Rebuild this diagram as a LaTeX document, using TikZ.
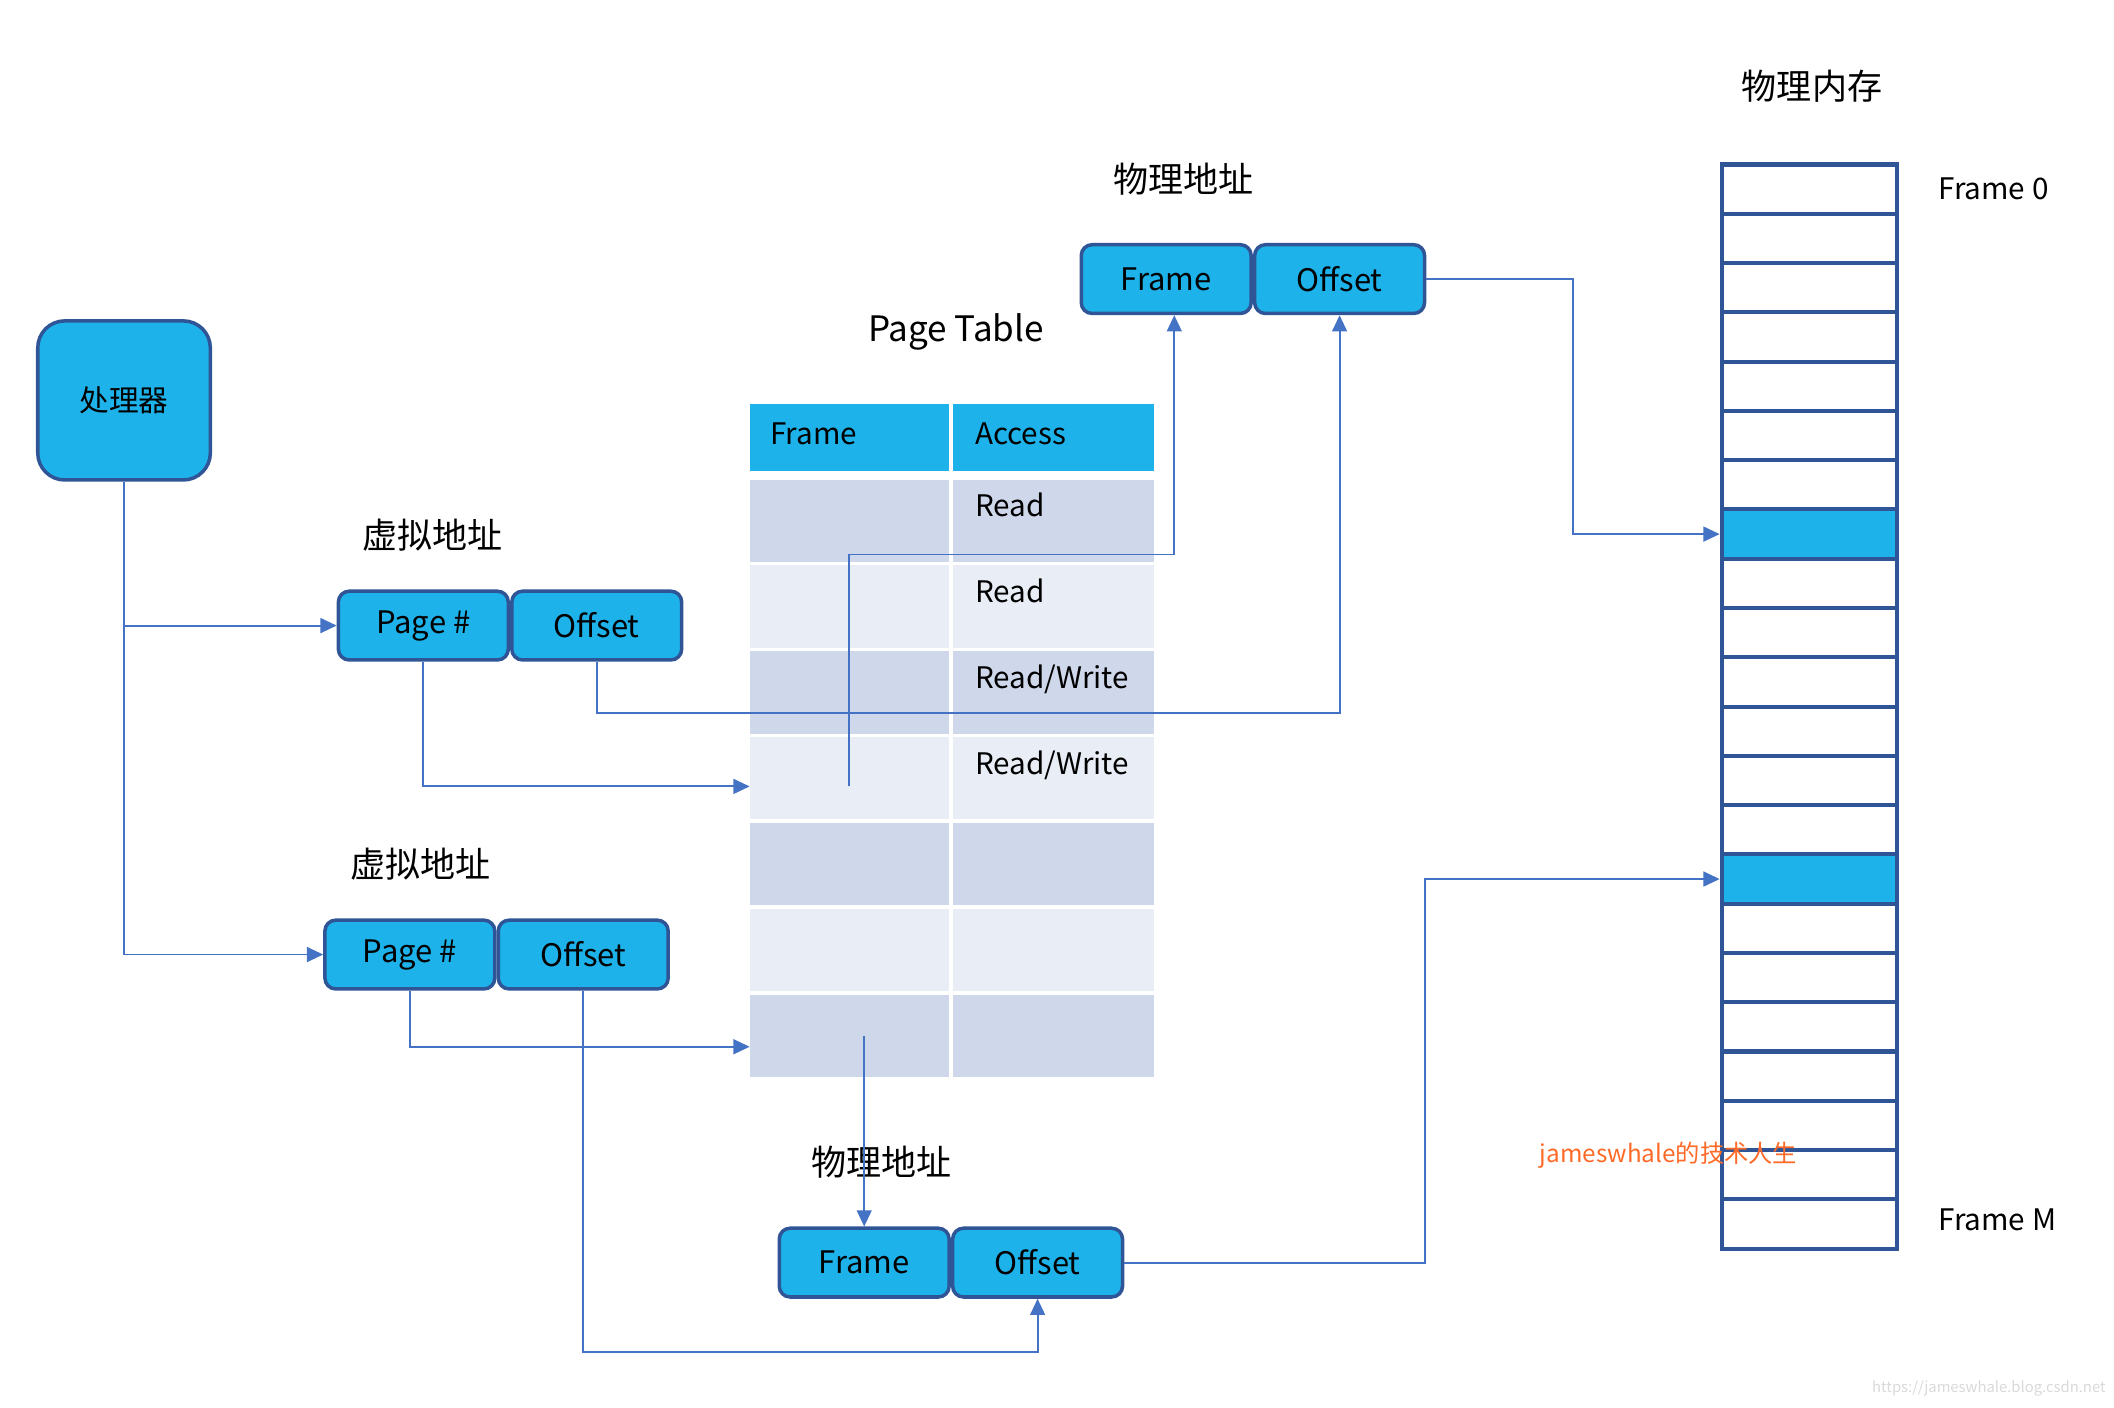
\documentclass[tikz,border=0pt]{standalone}
\usepackage{fontspec}
\setmainfont{Noto Sans CJK SC}
\usepackage{tikz}
\usetikzlibrary{arrows.meta,positioning}

\definecolor{boxcyan}{RGB}{30,178,234}
\definecolor{boxline}{RGB}{47,85,151}
\definecolor{linkblue}{RGB}{68,114,196}
\definecolor{rowdark}{RGB}{207,215,234}
\definecolor{rowlight}{RGB}{233,237,245}
\definecolor{markorange}{RGB}{255,106,40}

\newcommand\rdwr{Read/Write}

\tikzset{
  addrbox/.style={draw=boxline, fill=boxcyan, line width=2.6pt, rounded corners=8pt,
    minimum width=126pt, minimum height=51pt, inner sep=0pt, font=\fontsize{23}{27}\selectfont},
  cpubox/.style={addrbox, rounded corners=20pt, minimum width=128pt, minimum height=118pt,
    font=\fontsize{22}{26}\selectfont},
  zhlabel/.style={inner sep=0pt, font=\fontsize{26}{30}\selectfont},
  cell/.style={inner sep=0pt, outer sep=0pt, minimum height=61pt},
  celltext/.style={inner sep=0pt, font=\fontsize{22}{26}\selectfont},
  memcell/.style={draw=boxline, line width=3pt, minimum width=130pt, minimum height=36.55pt, inner sep=0pt},
  link/.style={draw=linkblue, line width=1.4pt, -{Triangle[length=12pt,width=11pt]}}
}

\begin{document}
\begin{tikzpicture}[x=1pt,y=-1pt]
   \useasboundingbox (0,0) rectangle (1568,1044);

   % processor and the two virtual addresses
   \node[cpubox] (cpu) at (92,297) {处理器};

   \node[zhlabel] (valbl1) at (321,397) {虚拟地址};
   \node[addrbox] (va1page) at (314,464) {Page \#};
   \node[addrbox, right=0pt of va1page] (va1off) {Offset};

   \node[zhlabel] (valbl2) at (312,641) {虚拟地址};
   \node[addrbox] (va2page) at (304,708) {Page \#};
   \node[addrbox, right=0pt of va2page] (va2off) {Offset};

   % page table
   \node[zhlabel] (ptlbl) at (709,246) {Page Table};
   \node[cell, fill=boxcyan, minimum width=148pt, minimum height=49pt] (thf) at (630,324.5) {};
   \node[cell, fill=boxcyan, minimum width=149pt, minimum height=49pt] (tha) at (781.5,324.5) {};
   \node[celltext, anchor=west] at ([xshift=15pt,yshift=3pt]thf.west) {Frame};
   \node[celltext, anchor=west] at ([xshift=16pt,yshift=3pt]tha.west) {Access};

   \foreach \i/\c/\t in {1/rowdark/Read, 2/rowlight/Read, 3/rowdark/\rdwr, 4/rowlight/\rdwr,
                         5/rowdark/, 6/rowlight/, 7/rowdark/} {
     \node[cell, fill=\c, minimum width=148pt] (tf\i) at (630,{322.5+63.7*\i}) {};
     \node[cell, fill=\c, minimum width=149pt] (ta\i) at (781.5,{322.5+63.7*\i}) {};
     \node[celltext, anchor=north west] at ([xshift=16pt,yshift=-10pt]ta\i.north west) {\t};
   }

   % physical addresses
   \node[zhlabel] (palbl1) at (878,133) {物理地址};
   \node[addrbox] (pa1frame) at (865,207) {Frame};
   \node[addrbox, right=0pt of pa1frame] (pa1off) {Offset};

   \node[zhlabel] (palbl2) at (654,862) {物理地址};
   \node[addrbox] (pa2frame) at (641,936.5) {Frame};
   \node[addrbox, right=0pt of pa2frame] (pa2off) {Offset};

   % physical memory
   \node[zhlabel] (memlbl) at (1344,64) {物理内存};
   \foreach \i in {0,...,21} {
     \def\c{white}
     \ifnum\i=7 \def\c{boxcyan}\fi
     \ifnum\i=14 \def\c{boxcyan}\fi
     \node[memcell, fill=\c] (mem\i) at (1342,{122+36.55*\i+18.3}) {};
   }
   \node[celltext, anchor=west] (f0) at ([xshift=29pt]mem0.east) {Frame 0};
   \node[celltext, anchor=west] (fm) at ([xshift=29pt,yshift=3pt]mem21.east) {Frame M};

   % connectors
   \draw[link] (cpu.south) |- (va2page.west);
   \draw[link] (cpu.south |- va1page.west) -- (va1page.west);

   \draw[link] (va1page.south) |- ([yshift=-6pt]tf4.west);
   \draw[link] (va2page.south) |- ([yshift=-8pt]tf7.west);

   \draw[link] ([yshift=-6pt]tf4.center) -- ++(0,-172) -| ([xshift=6pt]pa1frame.south);
   \draw[link] (va1off.south) -- ++(0,38) -| (pa1off.south);
   \draw[link] (pa1off.east) -- ++(109,0) |- (mem7.west);

   \draw[link] (pa2frame.north |- tf7.center) -- (pa2frame.north);
   \draw[link] (va2off.south) -- ++(0,268) -| (pa2off.south);
   \draw[link] (pa2off.east) -- ++(223,0) |- (mem14.west);

   % marks
   \node[text=markorange, inner sep=0pt, anchor=west, font=\fontsize{18}{20}\selectfont] (mark) at (1142,857) {jameswhale的技术人生};
   \node[text=gray!30, inner sep=0pt, anchor=east, font=\fontsize{11}{13}\selectfont] (url) at (1562,1030) {https://jameswhale.blog.csdn.net};
\end{tikzpicture}
\end{document}
